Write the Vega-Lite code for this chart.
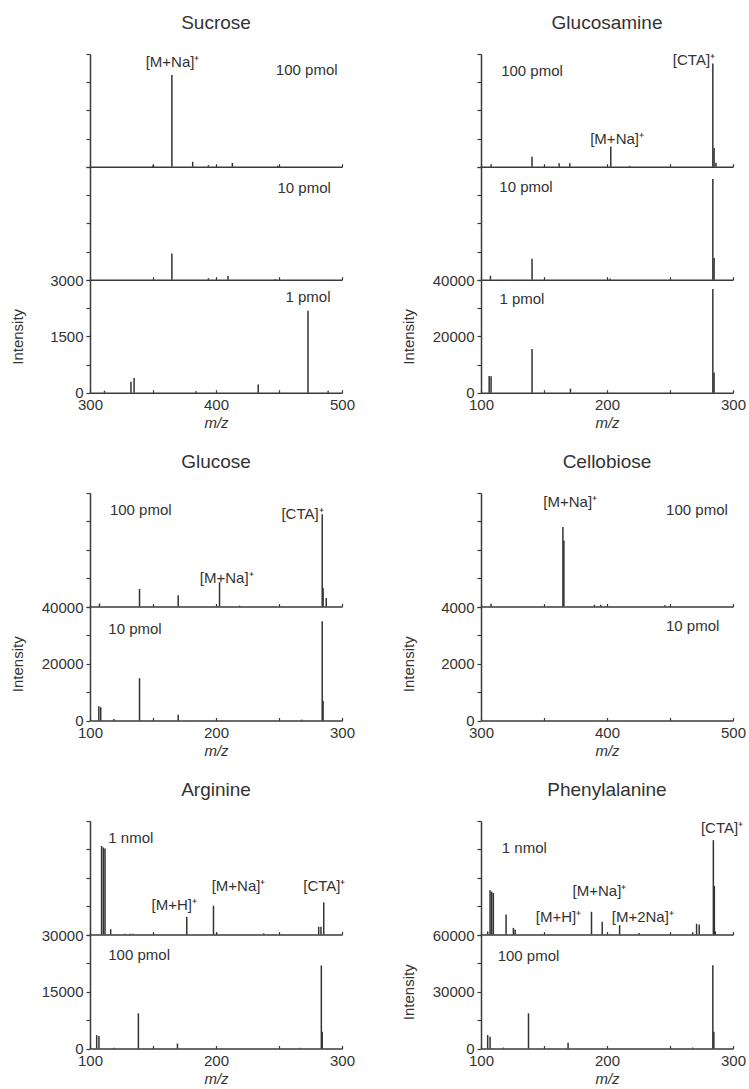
{
  "$schema": "https://vega.github.io/schema/vega-lite/v6.json",
  "background": "white",
  "padding": {"left": 10, "top": 14, "right": 0, "bottom": 0},
  "spacing": 22,
  "datasets": {
    "peaks": [
      {"compound": "Sucrose", "amount": "100 pmol", "mz": 350, "intensity": 40},
      {"compound": "Sucrose", "amount": "100 pmol", "mz": 365, "intensity": 2440},
      {"compound": "Sucrose", "amount": "100 pmol", "mz": 381.5, "intensity": 130},
      {"compound": "Sucrose", "amount": "100 pmol", "mz": 394, "intensity": 40},
      {"compound": "Sucrose", "amount": "100 pmol", "mz": 413, "intensity": 100},
      {"compound": "Sucrose", "amount": "100 pmol", "mz": 449, "intensity": 30},
      {"compound": "Sucrose", "amount": "10 pmol", "mz": 365, "intensity": 700},
      {"compound": "Sucrose", "amount": "10 pmol", "mz": 394, "intensity": 40},
      {"compound": "Sucrose", "amount": "10 pmol", "mz": 409.5, "intensity": 100},
      {"compound": "Sucrose", "amount": "10 pmol", "mz": 447, "intensity": 20},
      {"compound": "Sucrose", "amount": "1 pmol", "mz": 311.5, "intensity": 50},
      {"compound": "Sucrose", "amount": "1 pmol", "mz": 332.5, "intensity": 290},
      {"compound": "Sucrose", "amount": "1 pmol", "mz": 335, "intensity": 390},
      {"compound": "Sucrose", "amount": "1 pmol", "mz": 384, "intensity": 40},
      {"compound": "Sucrose", "amount": "1 pmol", "mz": 433.5, "intensity": 215},
      {"compound": "Sucrose", "amount": "1 pmol", "mz": 473, "intensity": 2180},
      {"compound": "Sucrose", "amount": "1 pmol", "mz": 489, "intensity": 50},
      {"compound": "Glucosamine", "amount": "100 pmol", "mz": 108, "intensity": 830},
      {"compound": "Glucosamine", "amount": "100 pmol", "mz": 140.5, "intensity": 3570},
      {"compound": "Glucosamine", "amount": "100 pmol", "mz": 162, "intensity": 1190},
      {"compound": "Glucosamine", "amount": "100 pmol", "mz": 170.5, "intensity": 1190},
      {"compound": "Glucosamine", "amount": "100 pmol", "mz": 203, "intensity": 7140},
      {"compound": "Glucosamine", "amount": "100 pmol", "mz": 218, "intensity": 300},
      {"compound": "Glucosamine", "amount": "100 pmol", "mz": 284, "intensity": 36600},
      {"compound": "Glucosamine", "amount": "100 pmol", "mz": 285, "intensity": 6600},
      {"compound": "Glucosamine", "amount": "100 pmol", "mz": 286.5, "intensity": 1400},
      {"compound": "Glucosamine", "amount": "10 pmol", "mz": 107.5, "intensity": 1400},
      {"compound": "Glucosamine", "amount": "10 pmol", "mz": 140.5, "intensity": 7400},
      {"compound": "Glucosamine", "amount": "10 pmol", "mz": 202.5, "intensity": 400},
      {"compound": "Glucosamine", "amount": "10 pmol", "mz": 284, "intensity": 35700},
      {"compound": "Glucosamine", "amount": "10 pmol", "mz": 285, "intensity": 7700},
      {"compound": "Glucosamine", "amount": "1 pmol", "mz": 106.5, "intensity": 5950},
      {"compound": "Glucosamine", "amount": "1 pmol", "mz": 108, "intensity": 5800},
      {"compound": "Glucosamine", "amount": "1 pmol", "mz": 140.5, "intensity": 15500},
      {"compound": "Glucosamine", "amount": "1 pmol", "mz": 171, "intensity": 1430},
      {"compound": "Glucosamine", "amount": "1 pmol", "mz": 284, "intensity": 36800},
      {"compound": "Glucosamine", "amount": "1 pmol", "mz": 285, "intensity": 7140},
      {"compound": "Glucose", "amount": "100 pmol", "mz": 107.5, "intensity": 1070},
      {"compound": "Glucose", "amount": "100 pmol", "mz": 139.3, "intensity": 6190},
      {"compound": "Glucose", "amount": "100 pmol", "mz": 170, "intensity": 3930},
      {"compound": "Glucose", "amount": "100 pmol", "mz": 202.8, "intensity": 8570},
      {"compound": "Glucose", "amount": "100 pmol", "mz": 218.7, "intensity": 300},
      {"compound": "Glucose", "amount": "100 pmol", "mz": 284.3, "intensity": 32500},
      {"compound": "Glucose", "amount": "100 pmol", "mz": 285, "intensity": 6550},
      {"compound": "Glucose", "amount": "100 pmol", "mz": 287.5, "intensity": 2980},
      {"compound": "Glucose", "amount": "10 pmol", "mz": 107, "intensity": 5000},
      {"compound": "Glucose", "amount": "10 pmol", "mz": 108.5, "intensity": 4700},
      {"compound": "Glucose", "amount": "10 pmol", "mz": 119, "intensity": 500},
      {"compound": "Glucose", "amount": "10 pmol", "mz": 139.3, "intensity": 14900},
      {"compound": "Glucose", "amount": "10 pmol", "mz": 170, "intensity": 2030},
      {"compound": "Glucose", "amount": "10 pmol", "mz": 268, "intensity": 300},
      {"compound": "Glucose", "amount": "10 pmol", "mz": 284.3, "intensity": 35000},
      {"compound": "Glucose", "amount": "10 pmol", "mz": 285, "intensity": 6900},
      {"compound": "Cellobiose", "amount": "100 pmol", "mz": 308, "intensity": 100},
      {"compound": "Cellobiose", "amount": "100 pmol", "mz": 365, "intensity": 2800},
      {"compound": "Cellobiose", "amount": "100 pmol", "mz": 365.8, "intensity": 2330},
      {"compound": "Cellobiose", "amount": "100 pmol", "mz": 390, "intensity": 60},
      {"compound": "Cellobiose", "amount": "100 pmol", "mz": 395, "intensity": 60},
      {"compound": "Cellobiose", "amount": "100 pmol", "mz": 446, "intensity": 40},
      {"compound": "Arginine", "amount": "1 nmol", "mz": 109.2, "intensity": 23400},
      {"compound": "Arginine", "amount": "1 nmol", "mz": 110.6, "intensity": 23000},
      {"compound": "Arginine", "amount": "1 nmol", "mz": 111.9, "intensity": 22700},
      {"compound": "Arginine", "amount": "1 nmol", "mz": 116.4, "intensity": 1400},
      {"compound": "Arginine", "amount": "1 nmol", "mz": 127.8, "intensity": 200},
      {"compound": "Arginine", "amount": "1 nmol", "mz": 131.8, "intensity": 200},
      {"compound": "Arginine", "amount": "1 nmol", "mz": 133.9, "intensity": 200},
      {"compound": "Arginine", "amount": "1 nmol", "mz": 176.8, "intensity": 4690},
      {"compound": "Arginine", "amount": "1 nmol", "mz": 198, "intensity": 7600},
      {"compound": "Arginine", "amount": "1 nmol", "mz": 200.6, "intensity": 300},
      {"compound": "Arginine", "amount": "1 nmol", "mz": 237.8, "intensity": 300},
      {"compound": "Arginine", "amount": "1 nmol", "mz": 281.5, "intensity": 2040},
      {"compound": "Arginine", "amount": "1 nmol", "mz": 283.3, "intensity": 2040},
      {"compound": "Arginine", "amount": "1 nmol", "mz": 285.5, "intensity": 8480},
      {"compound": "Arginine", "amount": "100 pmol", "mz": 105.3, "intensity": 3540},
      {"compound": "Arginine", "amount": "100 pmol", "mz": 107.1, "intensity": 3280},
      {"compound": "Arginine", "amount": "100 pmol", "mz": 119.1, "intensity": 200},
      {"compound": "Arginine", "amount": "100 pmol", "mz": 138.4, "intensity": 9290},
      {"compound": "Arginine", "amount": "100 pmol", "mz": 169.4, "intensity": 1330},
      {"compound": "Arginine", "amount": "100 pmol", "mz": 267, "intensity": 200},
      {"compound": "Arginine", "amount": "100 pmol", "mz": 283.6, "intensity": 21950},
      {"compound": "Arginine", "amount": "100 pmol", "mz": 284.3, "intensity": 4430},
      {"compound": "Phenylalanine", "amount": "1 nmol", "mz": 105.3, "intensity": 1600},
      {"compound": "Phenylalanine", "amount": "1 nmol", "mz": 107.2, "intensity": 23400},
      {"compound": "Phenylalanine", "amount": "1 nmol", "mz": 108.5, "intensity": 22650},
      {"compound": "Phenylalanine", "amount": "1 nmol", "mz": 109.8, "intensity": 21950},
      {"compound": "Phenylalanine", "amount": "1 nmol", "mz": 119.9, "intensity": 10600},
      {"compound": "Phenylalanine", "amount": "1 nmol", "mz": 125.7, "intensity": 3500},
      {"compound": "Phenylalanine", "amount": "1 nmol", "mz": 127.1, "intensity": 2500},
      {"compound": "Phenylalanine", "amount": "1 nmol", "mz": 187.7, "intensity": 12000},
      {"compound": "Phenylalanine", "amount": "1 nmol", "mz": 196.2, "intensity": 6730},
      {"compound": "Phenylalanine", "amount": "1 nmol", "mz": 210, "intensity": 4960},
      {"compound": "Phenylalanine", "amount": "1 nmol", "mz": 225.4, "intensity": 800},
      {"compound": "Phenylalanine", "amount": "1 nmol", "mz": 268, "intensity": 1200},
      {"compound": "Phenylalanine", "amount": "1 nmol", "mz": 271.1, "intensity": 5660},
      {"compound": "Phenylalanine", "amount": "1 nmol", "mz": 273.2, "intensity": 5300},
      {"compound": "Phenylalanine", "amount": "1 nmol", "mz": 284.4, "intensity": 49900},
      {"compound": "Phenylalanine", "amount": "1 nmol", "mz": 285.2, "intensity": 25700},
      {"compound": "Phenylalanine", "amount": "1 nmol", "mz": 286, "intensity": 1600},
      {"compound": "Phenylalanine", "amount": "100 pmol", "mz": 105.3, "intensity": 7080},
      {"compound": "Phenylalanine", "amount": "100 pmol", "mz": 107.2, "intensity": 6200},
      {"compound": "Phenylalanine", "amount": "100 pmol", "mz": 117.8, "intensity": 500},
      {"compound": "Phenylalanine", "amount": "100 pmol", "mz": 137.7, "intensity": 18600},
      {"compound": "Phenylalanine", "amount": "100 pmol", "mz": 169.1, "intensity": 3000},
      {"compound": "Phenylalanine", "amount": "100 pmol", "mz": 268, "intensity": 500},
      {"compound": "Phenylalanine", "amount": "100 pmol", "mz": 284, "intensity": 44000},
      {"compound": "Phenylalanine", "amount": "100 pmol", "mz": 284.8, "intensity": 8850}
    ],
    "notes": [
      {"compound": "Sucrose", "amount": "100 pmol", "label": "[M+Na]⁺", "mz": 365.5, "intensity": 2800},
      {"compound": "Sucrose", "amount": "100 pmol", "label": "100 pmol", "mz": 472, "intensity": 2580},
      {"compound": "Sucrose", "amount": "10 pmol", "label": "10 pmol", "mz": 470, "intensity": 2450},
      {"compound": "Sucrose", "amount": "1 pmol", "label": "1 pmol", "mz": 473, "intensity": 2560},
      {"compound": "Glucosamine", "amount": "100 pmol", "label": "[CTA]⁺", "mz": 269, "intensity": 37800},
      {"compound": "Glucosamine", "amount": "100 pmol", "label": "100 pmol", "mz": 140.5, "intensity": 33900},
      {"compound": "Glucosamine", "amount": "100 pmol", "label": "[M+Na]⁺", "mz": 208, "intensity": 9700},
      {"compound": "Glucosamine", "amount": "10 pmol", "label": "10 pmol", "mz": 135.7, "intensity": 33000},
      {"compound": "Glucosamine", "amount": "1 pmol", "label": "1 pmol", "mz": 132.5, "intensity": 33300},
      {"compound": "Glucose", "amount": "100 pmol", "label": "100 pmol", "mz": 140.3, "intensity": 34100},
      {"compound": "Glucose", "amount": "100 pmol", "label": "[CTA]⁺", "mz": 268.7, "intensity": 32600},
      {"compound": "Glucose", "amount": "100 pmol", "label": "[M+Na]⁺", "mz": 208.5, "intensity": 9900},
      {"compound": "Glucose", "amount": "10 pmol", "label": "10 pmol", "mz": 135.7, "intensity": 32300},
      {"compound": "Cellobiose", "amount": "100 pmol", "label": "[M+Na]⁺", "mz": 370.8, "intensity": 3700},
      {"compound": "Cellobiose", "amount": "100 pmol", "label": "100 pmol", "mz": 471.4, "intensity": 3400},
      {"compound": "Cellobiose", "amount": "10 pmol", "label": "10 pmol", "mz": 468, "intensity": 3340},
      {"compound": "Arginine", "amount": "1 nmol", "label": "1 nmol", "mz": 132.4, "intensity": 25600},
      {"compound": "Arginine", "amount": "1 nmol", "label": "[M+H]⁺", "mz": 166.9, "intensity": 7800},
      {"compound": "Arginine", "amount": "1 nmol", "label": "[M+Na]⁺", "mz": 217.9, "intensity": 12700},
      {"compound": "Arginine", "amount": "1 nmol", "label": "[CTA]⁺", "mz": 286, "intensity": 12700},
      {"compound": "Arginine", "amount": "100 pmol", "label": "100 pmol", "mz": 139, "intensity": 24600},
      {"compound": "Phenylalanine", "amount": "1 nmol", "label": "[CTA]⁺", "mz": 291.3, "intensity": 56500},
      {"compound": "Phenylalanine", "amount": "1 nmol", "label": "1 nmol", "mz": 134.4, "intensity": 45600},
      {"compound": "Phenylalanine", "amount": "1 nmol", "label": "[M+Na]⁺", "mz": 194, "intensity": 23100},
      {"compound": "Phenylalanine", "amount": "1 nmol", "label": "[M+H]⁺", "mz": 161.5, "intensity": 9000},
      {"compound": "Phenylalanine", "amount": "1 nmol", "label": "[M+2Na]⁺", "mz": 228.4, "intensity": 9000},
      {"compound": "Phenylalanine", "amount": "100 pmol", "label": "100 pmol", "mz": 137.7, "intensity": 49100}
    ]
  },
  "config": {
    "font": "Liberation Sans",
    "view": {"stroke": null},
    "axis": {"domainColor": "#3a3a3a", "domainWidth": 1.5, "tickColor": "#3a3a3a", "tickWidth": 1.2, "tickSize": 4, "labelColor": "#333", "labelFontSize": 15, "labelFont": "Liberation Sans", "titleFont": "Liberation Sans", "titleFontSize": 15, "titleFontWeight": "normal", "titleColor": "#333", "grid": false, "labelPadding": 3},
    "axisX": {"titleFontStyle": "italic", "titlePadding": 3, "labelPadding": 8, "tickSize": -3, "labelFlush": false, "labelOverlap": false},
    "title": {"fontSize": 19, "fontWeight": "normal", "font": "Liberation Sans", "color": "#333", "anchor": "middle", "frame": "group", "offset": 20},
    "rule": {"strokeWidth": 1.5, "color": "#333"},
    "text": {"fontSize": 15, "color": "#333", "font": "Liberation Sans"}
  },
  "vconcat": [
    {
      "spacing": 46,
      "hconcat": [
        {
          "spacing": 0,
          "bounds": "flush",
          "vconcat": [
            {
              "width": 252, "height": 112.7, "title": "Sucrose",
              "encoding": {
                "x": {"field": "mz", "type": "quantitative", "scale": {"domain": [300, 500], "nice": false, "zero": false}, "axis": {"values": [300, 350, 400, 450, 500], "labels": false, "title": null}},
                "y": {"field": "intensity", "type": "quantitative", "scale": {"domain": [0, 3000], "nice": false}, "axis": {"values": [0, 750, 1500, 2250, 3000], "labels": false, "title": null}}
              },
              "layer": [
                {"data": {"name": "peaks"}, "transform": [{"filter": "datum.compound === 'Sucrose' && datum.amount === '100 pmol'"}], "mark": {"type": "rule"}, "encoding": {"y2": {"datum": 0}}},
                {"data": {"name": "notes"}, "transform": [{"filter": "datum.compound === 'Sucrose' && datum.amount === '100 pmol'"}], "mark": {"type": "text"}, "encoding": {"text": {"field": "label"}}}
              ]
            },
            {
              "width": 252, "height": 112.7,
              "encoding": {
                "x": {"field": "mz", "type": "quantitative", "scale": {"domain": [300, 500], "nice": false, "zero": false}, "axis": {"values": [300, 350, 400, 450, 500], "labels": false, "title": null}},
                "y": {"field": "intensity", "type": "quantitative", "scale": {"domain": [0, 3000], "nice": false}, "axis": {"values": [0, 750, 1500, 2250, 3000], "labels": false, "title": null}}
              },
              "layer": [
                {"data": {"name": "peaks"}, "transform": [{"filter": "datum.compound === 'Sucrose' && datum.amount === '10 pmol'"}], "mark": {"type": "rule"}, "encoding": {"y2": {"datum": 0}}},
                {"data": {"name": "notes"}, "transform": [{"filter": "datum.compound === 'Sucrose' && datum.amount === '10 pmol'"}], "mark": {"type": "text"}, "encoding": {"text": {"field": "label"}}}
              ]
            },
            {
              "width": 252, "height": 112.7,
              "encoding": {
                "x": {"field": "mz", "type": "quantitative", "scale": {"domain": [300, 500], "nice": false, "zero": false}, "axis": {"values": [300, 350, 400, 450, 500], "labelExpr": "datum.value % 100 === 0 ? datum.label : ''", "title": "m/z"}},
                "y": {"field": "intensity", "type": "quantitative", "scale": {"domain": [0, 3000], "nice": false}, "axis": {"values": [0, 750, 1500, 2250, 3000], "format": "d", "labelExpr": "datum.value % 1500 === 0 ? datum.label : ''", "title": "Intensity", "titleX": -73, "titleBaseline": "middle"}}
              },
              "layer": [
                {"data": {"name": "peaks"}, "transform": [{"filter": "datum.compound === 'Sucrose' && datum.amount === '1 pmol'"}], "mark": {"type": "rule"}, "encoding": {"y2": {"datum": 0}}},
                {"data": {"name": "notes"}, "transform": [{"filter": "datum.compound === 'Sucrose' && datum.amount === '1 pmol'"}], "mark": {"type": "text"}, "encoding": {"text": {"field": "label"}}}
              ]
            }
          ]
        },
        {
          "spacing": 0,
          "bounds": "flush",
          "vconcat": [
            {
              "width": 252, "height": 112.7, "title": "Glucosamine",
              "encoding": {
                "x": {"field": "mz", "type": "quantitative", "scale": {"domain": [100, 300], "nice": false, "zero": false}, "axis": {"values": [100, 150, 200, 250, 300], "labels": false, "title": null}},
                "y": {"field": "intensity", "type": "quantitative", "scale": {"domain": [0, 40000], "nice": false}, "axis": {"values": [0, 10000, 20000, 30000, 40000], "labels": false, "title": null}}
              },
              "layer": [
                {"data": {"name": "peaks"}, "transform": [{"filter": "datum.compound === 'Glucosamine' && datum.amount === '100 pmol'"}], "mark": {"type": "rule"}, "encoding": {"y2": {"datum": 0}}},
                {"data": {"name": "notes"}, "transform": [{"filter": "datum.compound === 'Glucosamine' && datum.amount === '100 pmol'"}], "mark": {"type": "text"}, "encoding": {"text": {"field": "label"}}}
              ]
            },
            {
              "width": 252, "height": 112.7,
              "encoding": {
                "x": {"field": "mz", "type": "quantitative", "scale": {"domain": [100, 300], "nice": false, "zero": false}, "axis": {"values": [100, 150, 200, 250, 300], "labels": false, "title": null}},
                "y": {"field": "intensity", "type": "quantitative", "scale": {"domain": [0, 40000], "nice": false}, "axis": {"values": [0, 10000, 20000, 30000, 40000], "labels": false, "title": null}}
              },
              "layer": [
                {"data": {"name": "peaks"}, "transform": [{"filter": "datum.compound === 'Glucosamine' && datum.amount === '10 pmol'"}], "mark": {"type": "rule"}, "encoding": {"y2": {"datum": 0}}},
                {"data": {"name": "notes"}, "transform": [{"filter": "datum.compound === 'Glucosamine' && datum.amount === '10 pmol'"}], "mark": {"type": "text"}, "encoding": {"text": {"field": "label"}}}
              ]
            },
            {
              "width": 252, "height": 112.7,
              "encoding": {
                "x": {"field": "mz", "type": "quantitative", "scale": {"domain": [100, 300], "nice": false, "zero": false}, "axis": {"values": [100, 150, 200, 250, 300], "labelExpr": "datum.value % 100 === 0 ? datum.label : ''", "title": "m/z"}},
                "y": {"field": "intensity", "type": "quantitative", "scale": {"domain": [0, 40000], "nice": false}, "axis": {"values": [0, 10000, 20000, 30000, 40000], "format": "d", "labelExpr": "datum.value % 20000 === 0 ? datum.label : ''", "title": "Intensity", "titleX": -73, "titleBaseline": "middle"}}
              },
              "layer": [
                {"data": {"name": "peaks"}, "transform": [{"filter": "datum.compound === 'Glucosamine' && datum.amount === '1 pmol'"}], "mark": {"type": "rule"}, "encoding": {"y2": {"datum": 0}}},
                {"data": {"name": "notes"}, "transform": [{"filter": "datum.compound === 'Glucosamine' && datum.amount === '1 pmol'"}], "mark": {"type": "text"}, "encoding": {"text": {"field": "label"}}}
              ]
            }
          ]
        }
      ]
    },
    {
      "spacing": 46,
      "hconcat": [
        {
          "spacing": 0,
          "bounds": "flush",
          "vconcat": [
            {
              "width": 252, "height": 113.5, "title": "Glucose",
              "encoding": {
                "x": {"field": "mz", "type": "quantitative", "scale": {"domain": [100, 300], "nice": false, "zero": false}, "axis": {"values": [100, 150, 200, 250, 300], "labels": false, "title": null}},
                "y": {"field": "intensity", "type": "quantitative", "scale": {"domain": [0, 40000], "nice": false}, "axis": {"values": [0, 10000, 20000, 30000, 40000], "labels": false, "title": null}}
              },
              "layer": [
                {"data": {"name": "peaks"}, "transform": [{"filter": "datum.compound === 'Glucose' && datum.amount === '100 pmol'"}], "mark": {"type": "rule"}, "encoding": {"y2": {"datum": 0}}},
                {"data": {"name": "notes"}, "transform": [{"filter": "datum.compound === 'Glucose' && datum.amount === '100 pmol'"}], "mark": {"type": "text"}, "encoding": {"text": {"field": "label"}}}
              ]
            },
            {
              "width": 252, "height": 113.5,
              "encoding": {
                "x": {"field": "mz", "type": "quantitative", "scale": {"domain": [100, 300], "nice": false, "zero": false}, "axis": {"values": [100, 150, 200, 250, 300], "labelExpr": "datum.value % 100 === 0 ? datum.label : ''", "title": "m/z"}},
                "y": {"field": "intensity", "type": "quantitative", "scale": {"domain": [0, 40000], "nice": false}, "axis": {"values": [0, 10000, 20000, 30000, 40000], "format": "d", "labelExpr": "datum.value % 20000 === 0 ? datum.label : ''", "title": "Intensity", "titleX": -73, "titleBaseline": "middle"}}
              },
              "layer": [
                {"data": {"name": "peaks"}, "transform": [{"filter": "datum.compound === 'Glucose' && datum.amount === '10 pmol'"}], "mark": {"type": "rule"}, "encoding": {"y2": {"datum": 0}}},
                {"data": {"name": "notes"}, "transform": [{"filter": "datum.compound === 'Glucose' && datum.amount === '10 pmol'"}], "mark": {"type": "text"}, "encoding": {"text": {"field": "label"}}}
              ]
            }
          ]
        },
        {
          "spacing": 0,
          "bounds": "flush",
          "vconcat": [
            {
              "width": 252, "height": 113.5, "title": "Cellobiose",
              "encoding": {
                "x": {"field": "mz", "type": "quantitative", "scale": {"domain": [300, 500], "nice": false, "zero": false}, "axis": {"values": [300, 350, 400, 450, 500], "labels": false, "title": null}},
                "y": {"field": "intensity", "type": "quantitative", "scale": {"domain": [0, 4000], "nice": false}, "axis": {"values": [0, 1000, 2000, 3000, 4000], "labels": false, "title": null}}
              },
              "layer": [
                {"data": {"name": "peaks"}, "transform": [{"filter": "datum.compound === 'Cellobiose' && datum.amount === '100 pmol'"}], "mark": {"type": "rule"}, "encoding": {"y2": {"datum": 0}}},
                {"data": {"name": "notes"}, "transform": [{"filter": "datum.compound === 'Cellobiose' && datum.amount === '100 pmol'"}], "mark": {"type": "text"}, "encoding": {"text": {"field": "label"}}}
              ]
            },
            {
              "width": 252, "height": 113.5,
              "encoding": {
                "x": {"field": "mz", "type": "quantitative", "scale": {"domain": [300, 500], "nice": false, "zero": false}, "axis": {"values": [300, 350, 400, 450, 500], "labelExpr": "datum.value % 100 === 0 ? datum.label : ''", "title": "m/z"}},
                "y": {"field": "intensity", "type": "quantitative", "scale": {"domain": [0, 4000], "nice": false}, "axis": {"values": [0, 1000, 2000, 3000, 4000], "format": "d", "labelExpr": "datum.value % 2000 === 0 ? datum.label : ''", "title": "Intensity", "titleX": -73, "titleBaseline": "middle"}}
              },
              "layer": [
                {"data": {"name": "peaks"}, "transform": [{"filter": "datum.compound === 'Cellobiose' && datum.amount === '10 pmol'"}], "mark": {"type": "rule"}, "encoding": {"y2": {"datum": 0}}},
                {"data": {"name": "notes"}, "transform": [{"filter": "datum.compound === 'Cellobiose' && datum.amount === '10 pmol'"}], "mark": {"type": "text"}, "encoding": {"text": {"field": "label"}}}
              ]
            }
          ]
        }
      ]
    },
    {
      "spacing": 46,
      "hconcat": [
        {
          "spacing": 0,
          "bounds": "flush",
          "vconcat": [
            {
              "width": 252, "height": 113.5, "title": "Arginine",
              "encoding": {
                "x": {"field": "mz", "type": "quantitative", "scale": {"domain": [100, 300], "nice": false, "zero": false}, "axis": {"values": [100, 150, 200, 250, 300], "labels": false, "title": null}},
                "y": {"field": "intensity", "type": "quantitative", "scale": {"domain": [0, 30000], "nice": false}, "axis": {"values": [0, 7500, 15000, 22500, 30000], "labels": false, "title": null}}
              },
              "layer": [
                {"data": {"name": "peaks"}, "transform": [{"filter": "datum.compound === 'Arginine' && datum.amount === '1 nmol'"}], "mark": {"type": "rule"}, "encoding": {"y2": {"datum": 0}}},
                {"data": {"name": "notes"}, "transform": [{"filter": "datum.compound === 'Arginine' && datum.amount === '1 nmol'"}], "mark": {"type": "text"}, "encoding": {"text": {"field": "label"}}}
              ]
            },
            {
              "width": 252, "height": 113.5,
              "encoding": {
                "x": {"field": "mz", "type": "quantitative", "scale": {"domain": [100, 300], "nice": false, "zero": false}, "axis": {"values": [100, 150, 200, 250, 300], "labelExpr": "datum.value % 100 === 0 ? datum.label : ''", "title": "m/z"}},
                "y": {"field": "intensity", "type": "quantitative", "scale": {"domain": [0, 30000], "nice": false}, "axis": {"values": [0, 7500, 15000, 22500, 30000], "format": "d", "labelExpr": "datum.value % 15000 === 0 ? datum.label : ''", "title": "Intensity", "titleColor": "white", "titleX": -73, "titleBaseline": "middle"}}
              },
              "layer": [
                {"data": {"name": "peaks"}, "transform": [{"filter": "datum.compound === 'Arginine' && datum.amount === '100 pmol'"}], "mark": {"type": "rule"}, "encoding": {"y2": {"datum": 0}}},
                {"data": {"name": "notes"}, "transform": [{"filter": "datum.compound === 'Arginine' && datum.amount === '100 pmol'"}], "mark": {"type": "text"}, "encoding": {"text": {"field": "label"}}}
              ]
            }
          ]
        },
        {
          "spacing": 0,
          "bounds": "flush",
          "vconcat": [
            {
              "width": 252, "height": 113.5, "title": "Phenylalanine",
              "encoding": {
                "x": {"field": "mz", "type": "quantitative", "scale": {"domain": [100, 300], "nice": false, "zero": false}, "axis": {"values": [100, 150, 200, 250, 300], "labels": false, "title": null}},
                "y": {"field": "intensity", "type": "quantitative", "scale": {"domain": [0, 60000], "nice": false}, "axis": {"values": [0, 15000, 30000, 45000, 60000], "labels": false, "title": null}}
              },
              "layer": [
                {"data": {"name": "peaks"}, "transform": [{"filter": "datum.compound === 'Phenylalanine' && datum.amount === '1 nmol'"}], "mark": {"type": "rule"}, "encoding": {"y2": {"datum": 0}}},
                {"data": {"name": "notes"}, "transform": [{"filter": "datum.compound === 'Phenylalanine' && datum.amount === '1 nmol'"}], "mark": {"type": "text"}, "encoding": {"text": {"field": "label"}}}
              ]
            },
            {
              "width": 252, "height": 113.5,
              "encoding": {
                "x": {"field": "mz", "type": "quantitative", "scale": {"domain": [100, 300], "nice": false, "zero": false}, "axis": {"values": [100, 150, 200, 250, 300], "labelExpr": "datum.value % 100 === 0 ? datum.label : ''", "title": "m/z"}},
                "y": {"field": "intensity", "type": "quantitative", "scale": {"domain": [0, 60000], "nice": false}, "axis": {"values": [0, 15000, 30000, 45000, 60000], "format": "d", "labelExpr": "datum.value % 30000 === 0 ? datum.label : ''", "title": "Intensity", "titleX": -73, "titleBaseline": "middle"}}
              },
              "layer": [
                {"data": {"name": "peaks"}, "transform": [{"filter": "datum.compound === 'Phenylalanine' && datum.amount === '100 pmol'"}], "mark": {"type": "rule"}, "encoding": {"y2": {"datum": 0}}},
                {"data": {"name": "notes"}, "transform": [{"filter": "datum.compound === 'Phenylalanine' && datum.amount === '100 pmol'"}], "mark": {"type": "text"}, "encoding": {"text": {"field": "label"}}}
              ]
            }
          ]
        }
      ]
    }
  ]
}
